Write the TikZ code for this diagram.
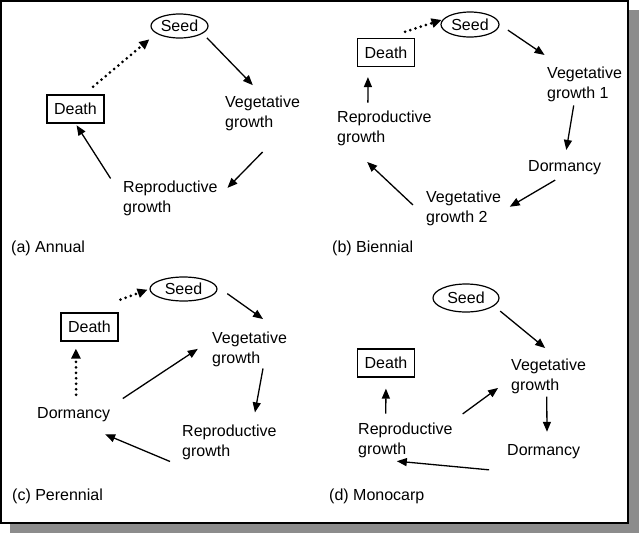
\documentclass[tikz,border=0pt]{standalone}
\usepackage{fontspec}
\setmainfont{Liberation Sans}
\usetikzlibrary{positioning}
\usetikzlibrary{shapes,arrows.meta}
\definecolor{shadowgray}{gray}{0.55}
\tikzset{
    phase/.style={anchor=base west, inner sep=0pt, align=left, font=\fontsize{16}{20}\selectfont},
    panelLabel/.style={anchor=base west, inner sep=0pt, font=\fontsize{16}{20}\selectfont},
    seedNode/.style={draw, ellipse, line width=1.2pt, inner sep=0pt, font=\fontsize{16}{20}\selectfont},
    deathNode/.style={draw, rectangle, line width=1.2pt, inner sep=0pt, minimum width=57pt, minimum height=28pt, font=\fontsize{16}{20}\selectfont},
    flow/.style={line width=1.3pt, -{Triangle[length=10pt,width=8pt]}},
    dotflow/.style={line width=3pt, dash pattern=on 0pt off 5.5pt, line cap=round, -{Triangle[length=10pt,width=9pt]}}
}

\begin{document}
\begin{tikzpicture}[x=1pt,y=-1pt]
    \useasboundingbox (0,0) rectangle (639,533);
    % frame and its shadow
    \fill[shadowgray] (10,10) rectangle (639,533);
    \draw[line width=1.5pt, fill=white] (1,1) rectangle (628,523);

    % (a) annual
    \node[seedNode, minimum width=57pt, minimum height=24pt] (seedA) at (179.5,26) {Seed};
    \node[deathNode] (deathA) at (75.5,109) {Death};
    \node[phase] (vegA) at (225,127) {Vegetative\\growth};
    \node[phase] (repA) at (123,212) {Reproductive\\growth};
    \node[panelLabel] (labA) at (11,252) {(a) Annual};
    \draw[dotflow, shorten <=12pt, shorten >=9pt] (deathA.60) -- (seedA.198);
    \draw[flow, shorten <=6pt, shorten >=14pt] (seedA.-18) -- (vegA.north);
    \draw[flow, shorten <=30pt, shorten >=14pt] (vegA.-40) -- (repA.east);
    \draw[flow, shorten <=23pt, shorten >=2pt] (repA.west) -- (deathA.south);

    % (b) biennial
    \node[seedNode, minimum width=58pt, minimum height=25pt] (seedB) at (470,24.5) {Seed};
    \node[deathNode] (deathB) at (386,52.5) {Death};
    \node[phase] (vegB) at (547,98) {Vegetative\\growth 1};
    \node[phase] (dormB) at (528,171) {Dormancy};
    \node[phase] (veg2B) at (426,222) {Vegetative\\growth 2};
    \node[phase] (repB) at (337,142) {Reproductive\\growth};
    \node[panelLabel] (labB) at (332,252) {(b) Biennial};
    \draw[dotflow, shorten <=20pt, shorten >=1pt] (deathB.north) -- (seedB.170);
    \draw[flow, shorten <=10pt, shorten >=20pt] (seedB.east) -- (vegB.143);
    \draw[flow, shorten <=4pt, shorten >=10pt] (vegB.240) -- (dormB.north);
    \draw[flow, shorten <=11pt, shorten >=10pt] (dormB.south) -- (veg2B.-6);
    \draw[flow, shorten <=18pt, shorten >=24pt] (veg2B.194) -- (repB.207);
    \draw[flow, shorten <=7.5pt, shorten >=10pt] (repB.133.5) -- (deathB.219);

    % (c) perennial
    \node[seedNode, minimum width=67pt, minimum height=24pt] (seedC) at (183.5,289) {Seed};
    \node[deathNode] (deathC) at (89.5,327) {Death};
    \node[phase] (vegC) at (212,363) {Vegetative\\growth};
    \node[phase] (repC) at (182,456) {Reproductive\\growth};
    \node[phase] (dormC) at (37,418) {Dormancy};
    \node[panelLabel] (labC) at (12,500) {(c) Perennial};
    \draw[dotflow, shorten <=2pt, shorten >=2pt] ([yshift=12pt]deathC.north east) -- (seedC.west);
    \draw[flow, shorten <=13pt, shorten >=21pt] (seedC.5) -- (vegC.30);
    \draw[flow, shorten <=2pt, shorten >=12pt] (vegC.-52) -- (repC.37);
    \draw[flow, shorten <=13pt, shorten >=33pt] ([yshift=-7pt]repC.south west) -- (dormC.-82);
    \draw[flow, shorten <=15pt, shorten >=17pt] (dormC.north east) -- (vegC.166);
    \draw[dotflow, shorten <=12pt, shorten >=7pt] (dormC.71.5) -- (deathC.227);

    % (d) monocarp
    \node[seedNode, minimum width=66pt, minimum height=28pt] (seedD) at (466,298) {Seed};
    \node[deathNode] (deathD) at (386,363) {Death};
    \node[phase] (vegD) at (511,390) {Vegetative\\growth};
    \node[phase] (dormD) at (507,455) {Dormancy};
    \node[phase] (repD) at (358,454) {Reproductive\\growth};
    \node[panelLabel] (labD) at (329,500) {(d) Monocarp};
    \draw[flow, shorten <=8pt, shorten >=16pt] (seedD.-16) -- (vegD.63);
    \draw[flow, shorten <=3pt, shorten >=12pt] (vegD.-96) -- (dormD.65);
    \draw[flow, shorten <=18pt, shorten >=39pt] ([yshift=-13pt]dormD.south west) -- (repD.south west);
    \draw[flow, shorten <=8.5pt, shorten >=11pt] (repD.138) -- (deathD.south);
    \draw[flow, shorten <=14pt, shorten >=16pt] (repD.21) -- (vegD.184);
\end{tikzpicture}
\end{document}
